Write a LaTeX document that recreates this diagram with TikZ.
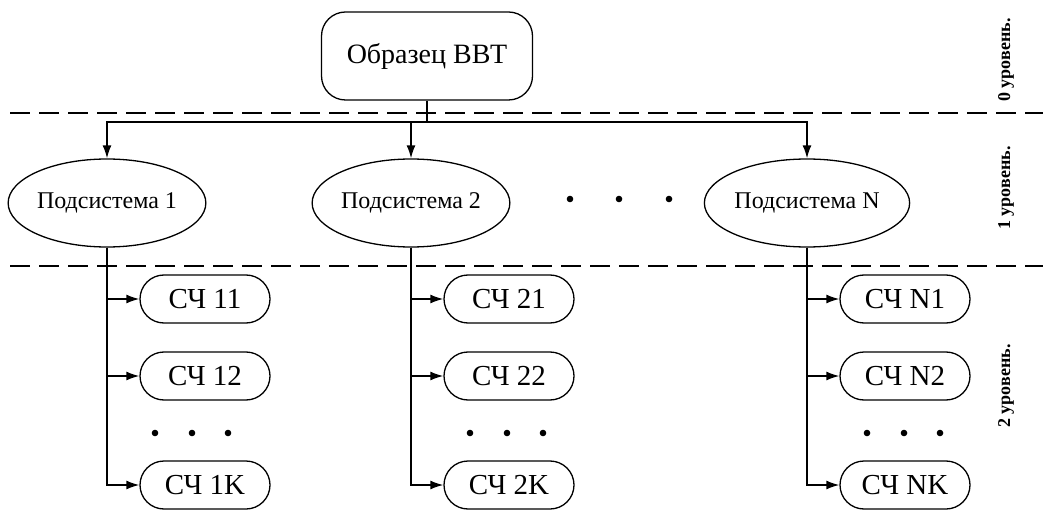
\documentclass[tikz,border=0pt]{standalone}
\usepackage{fontspec}
\setmainfont{Liberation Serif}
\usepackage{tikz}
\usetikzlibrary{shapes.geometric,arrows.meta}

\begin{document}
\begin{tikzpicture}[x=1pt, y=-1pt, line width=1.6pt,
	every node/.style={line width=1.3pt},
	topbox/.style={draw, rounded corners=24pt, minimum width=211pt, minimum height=88pt, font=\fontsize{28}{30}\selectfont},
	subsys/.style={draw, ellipse, minimum width=194pt, minimum height=88pt, inner sep=0pt, font=\fontsize{24}{26}\selectfont},
	part/.style={draw, rounded corners=24pt, minimum width=130pt, minimum height=48pt, inner sep=0pt, font=\fontsize{29}{31}\selectfont},
	level/.style={rotate=90, font=\fontsize{18}{20}\selectfont\bfseries},
	lvl/.style={dash pattern=on 20pt off 9pt, line width=2.6pt},
	arr/.style={-{Latex[length=13pt,width=9pt]}}]
\useasboundingbox (0,0) rectangle (1048,510);
\draw[lvl] (10,113) -- (1043,113);
\draw[lvl] (10,266) -- (1043,266);
\node[level] (l0) at (1006,60) {0 уровень.};
\node[level] (l1) at (1006,188) {1 уровень.};
\node[level] (l2) at (1006,386) {2 уровень.};
\node[topbox] (obr) at (427,56) {Образец ВВТ};
\coordinate (j) at (427,122);
\draw (obr) -- (j);
\foreach \x in {570,619,669}{
	\fill (\x,199) circle (3.3pt);
}
\foreach \n/\x/\d in {1/107/155, 2/411/470, N/807/867}{
	\node[subsys] (s\n) at (\x,203) {Подсистема \n};
	\node[part] (c\n-1) at (\x+98,299) {СЧ \n{}1};
	\node[part] (c\n-2) at (\x+98,376) {СЧ \n{}2};
	\node[part] (c\n-K) at (\x+98,485) {СЧ \n{}K};
	\draw[arr] (j) -| (s\n);
	\foreach \k in {1,2,K}{
		\draw[arr] (s\n) |- (c\n-\k);
	}
	%\path (\x,433) node{...};
	\foreach \dx in {0,37,73}{
		\fill (\d+\dx,433) circle (3.3pt);
	}
}
\end{tikzpicture}
\end{document}
